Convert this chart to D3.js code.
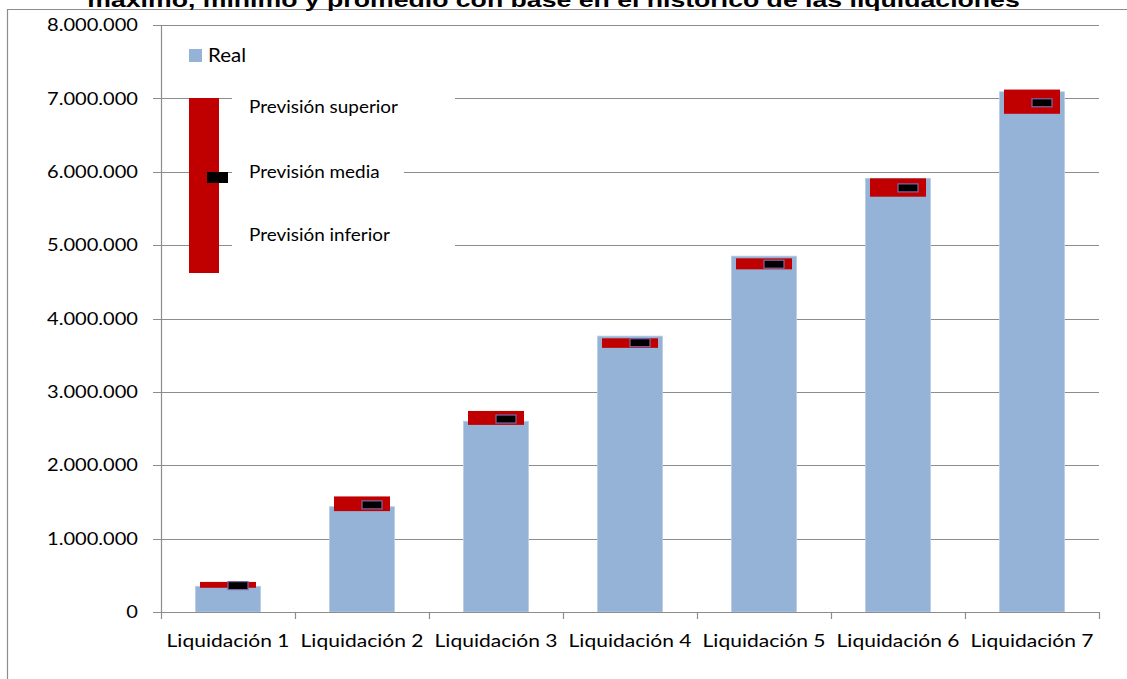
<!DOCTYPE html>
<html>
<head>
<meta charset="utf-8">
<script src="https://cdn.jsdelivr.net/npm/d3@7"></script>
<style>
  html, body { margin: 0; padding: 0; background: #fff; }
</style>
</head>
<body>
<div id="chart-container"></div>
<script>
// Chart data
const categories = ["Liquidación 1", "Liquidación 2", "Liquidación 3", "Liquidación 4", "Liquidación 5", "Liquidación 6", "Liquidación 7"];
const real = [350000, 1435000, 2600000, 3760000, 4850000, 5910000, 7090000];
const previsionSuperior = [410000, 1575000, 2740000, 3730000, 4820000, 5910000, 7120000];
const previsionInferior = [330000, 1375000, 2550000, 3600000, 4670000, 5660000, 6790000];
const previsionMedia = [360000, 1460000, 2630000, 3670000, 4740000, 5780000, 6940000];
const yTicks = [0, 1000000, 2000000, 3000000, 4000000, 5000000, 6000000, 7000000, 8000000];
const titleText = "máximo, mínimo y promedio con base en el histórico de las liquidaciones";

const width = 1127;
const height = 679;

// plot area
const plot = { left: 161, right: 1099, top: 25, bottom: 612 };

const gridColor = "#8c8c8c";
const blue = "#95b3d7";
const red = "#c00000";

// Spanish number format 8.000.000
const es = d3.formatLocale({ decimal: ",", thousands: ".", grouping: [3], currency: ["", " €"] });
const fmt = es.format(",d");

const svg = d3.select("#chart-container")
    .append("svg")
    .attr("width", width)
    .attr("height", height)
    .style("display", "block");

const x = d3.scaleBand()
    .domain(categories)
    .range([plot.left, plot.right])
    .paddingInner(0.515)
    .paddingOuter(0.2575);

const y = d3.scaleLinear()
    .domain([0, 8000000])
    .range([plot.bottom, plot.top]);

// stretch text horizontally so that a reference string reaches a target width
const fitText = (sel, refText, targetWidth) => {
    const probe = svg.append("text").attr("font-family", sel.attr("font-family"))
        .attr("font-size", sel.attr("font-size"))
        .attr("font-weight", sel.attr("font-weight"))
        .text(refText);
    const w = probe.node().getComputedTextLength();
    probe.remove();
    return targetWidth / w;
};

// outer frame
svg.append("path")
    .attr("d", `M7.5,${height} V9.5 H${width}`)
    .attr("fill", "none")
    .attr("stroke", gridColor)
    .attr("stroke-width", 1.2);

// title (top cut off like in the source)
const titleG = svg.append("g")
    .attr("font-family", "Liberation Sans, Arial, sans-serif")
    .attr("font-size", 20)
    .attr("font-weight", "bold");
const titleSx = fitText(titleG, titleText, 933);
titleG.append("text")
    .attr("transform", `translate(553.5,7) scale(${titleSx},1)`)
    .attr("text-anchor", "middle")
    .attr("fill", "#000")
    .text(titleText);

// gridlines
svg.append("g")
    .selectAll("line")
    .data(yTicks.filter(d => d > 0))
    .join("line")
    .attr("x1", plot.left - 8)
    .attr("x2", plot.right)
    .attr("y1", d => Math.round(y(d)) + 0.5)
    .attr("y2", d => Math.round(y(d)) + 0.5)
    .attr("stroke", gridColor)
    .attr("stroke-width", 1.2);

// y axis labels
const labelFont = "Lato, Open Sans, sans-serif";
const yLabelG = svg.append("g").attr("font-family", labelFont).attr("font-size", 17);
const ySx = fitText(yLabelG, "8.000.000", 91);
yLabelG.selectAll("text")
    .data(yTicks)
    .join("text")
    .attr("transform", d => `translate(138,${y(d)}) scale(${ySx},1)`)
    .attr("text-anchor", "end")
    .attr("dy", "0.36em")
    .attr("fill", "#000")
    .text(d => fmt(d));

// white boxes behind the legend texts
const legendBoxes = [
    { x0: 232, x1: 455, yv: 7000000 },
    { x0: 232, x1: 404, yv: 6000000 },
    { x0: 232, x1: 455, yv: 5000000 },
];
svg.append("g")
    .selectAll("rect")
    .data(legendBoxes)
    .join("rect")
    .attr("x", d => d.x0)
    .attr("width", d => d.x1 - d.x0)
    .attr("y", d => y(d.yv) - 5)
    .attr("height", 10)
    .attr("fill", "#fff");

// y axis line
svg.append("line")
    .attr("x1", plot.left + 0.5).attr("x2", plot.left + 0.5)
    .attr("y1", plot.top).attr("y2", plot.bottom)
    .attr("stroke", gridColor).attr("stroke-width", 1.2);

// blue bars (Real)
svg.append("g")
    .selectAll("rect")
    .data(real)
    .join("rect")
    .attr("x", (d, i) => x(categories[i]))
    .attr("width", x.bandwidth())
    .attr("y", d => y(d))
    .attr("height", d => y(0) - y(d))
    .attr("fill", blue)
    .attr("stroke", "#b9cde5")
    .attr("stroke-width", 0.8);

// red floating bars (previsión inferior - superior)
const redW = 56;
svg.append("g")
    .selectAll("rect")
    .data(previsionSuperior)
    .join("rect")
    .attr("x", (d, i) => x(categories[i]) + x.bandwidth() / 2 - redW / 2)
    .attr("width", redW)
    .attr("y", d => y(d))
    .attr("height", (d, i) => y(previsionInferior[i]) - y(d))
    .attr("fill", red);

// black markers (previsión media)
svg.append("g")
    .selectAll("rect")
    .data(previsionMedia)
    .join("rect")
    .attr("x", (d, i) => x(categories[i]) + x.bandwidth() / 2)
    .attr("width", 20)
    .attr("y", d => y(d) - 4)
    .attr("height", 8)
    .attr("fill", "#000")
    .attr("stroke", "#7f68a8")
    .attr("stroke-width", 1.2);

// x axis line and ticks
svg.append("line")
    .attr("x1", plot.left - 8).attr("x2", plot.right)
    .attr("y1", plot.bottom + 0.5).attr("y2", plot.bottom + 0.5)
    .attr("stroke", gridColor).attr("stroke-width", 1.2);

const boundaries = d3.range(categories.length + 1).map(i => plot.left + i * x.step());
svg.append("g")
    .selectAll("line")
    .data(boundaries)
    .join("line")
    .attr("x1", d => Math.round(d) + 0.5)
    .attr("x2", d => Math.round(d) + 0.5)
    .attr("y1", plot.bottom)
    .attr("y2", plot.bottom + 7)
    .attr("stroke", gridColor)
    .attr("stroke-width", 1.2);

// x axis labels
const xLabelG = svg.append("g").attr("font-family", labelFont).attr("font-size", 17);
const xSx = fitText(xLabelG, "Liquidación 1", 123);
xLabelG.selectAll("text")
    .data(categories)
    .join("text")
    .attr("transform", d => `translate(${x(d) + x.bandwidth() / 2},647) scale(${xSx},1)`)
    .attr("text-anchor", "middle")
    .attr("fill", "#000")
    .text(d => d);

// legend
const legend = svg.append("g");
legend.append("rect")
    .attr("x", 189).attr("y", 49).attr("width", 13).attr("height", 13)
    .attr("fill", blue);
const realG = legend.append("g").attr("font-family", labelFont).attr("font-size", 19);
const realSx = fitText(realG, "Real", 38);
realG.append("text")
    .attr("transform", `translate(208,62) scale(${realSx},1)`)
    .attr("fill", "#000")
    .text("Real");

legend.append("rect")
    .attr("x", 189).attr("y", 98).attr("width", 30).attr("height", 175)
    .attr("fill", red);
legend.append("rect")
    .attr("x", 207).attr("y", 172).attr("width", 21).attr("height", 11)
    .attr("fill", "#000");

const legendItems = [
    { label: "Previsión superior", yb: 113 },
    { label: "Previsión media", yb: 178 },
    { label: "Previsión inferior", yb: 241 },
];
const prevG = legend.append("g").attr("font-family", labelFont).attr("font-size", 18);
const prevSx = fitText(prevG, "Previsión superior", 149);
prevG.selectAll("text")
    .data(legendItems)
    .join("text")
    .attr("transform", d => `translate(249,${d.yb}) scale(${prevSx},1)`)
    .attr("fill", "#000")
    .text(d => d.label);
</script>
</body>
</html>
